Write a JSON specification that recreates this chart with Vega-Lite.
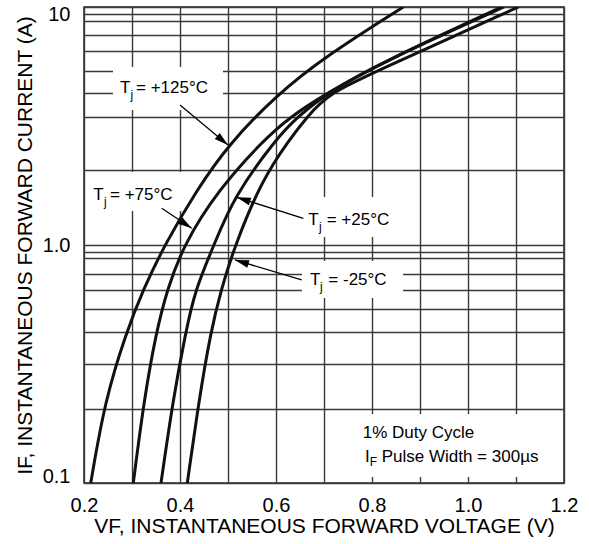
{
  "$schema": "https://vega.github.io/schema/vega-lite/v6.json",
  "autosize": {"type": "none"},
  "width": 480,
  "height": 476,
  "padding": {"left": 84, "top": 7, "right": 25, "bottom": 61},
  "background": "white",
  "config": {
    "font": "Liberation Sans",
    "view": {"stroke": "#222", "strokeWidth": 1.5},
    "axis": {
      "labelFont": "Liberation Sans",
      "titleFont": "Liberation Sans",
      "labelColor": "#000",
      "titleColor": "#000",
      "titleFontWeight": "normal",
      "domain": false,
      "ticks": false,
      "gridColor": "#3a3a3a",
      "gridWidth": 1.4,
      "gridOpacity": 1
    },
    "text": {"font": "Liberation Sans", "color": "#000"}
  },
  "datasets": {
    "curves": [
      {"t": "125", "v": 0.214, "i": 0.1},
      {"t": "125", "v": 0.2438, "i": 0.223},
      {"t": "125", "v": 0.2875, "i": 0.426},
      {"t": "125", "v": 0.3229, "i": 0.647},
      {"t": "125", "v": 0.3677, "i": 1.0},
      {"t": "125", "v": 0.4348, "i": 1.7},
      {"t": "125", "v": 0.5, "i": 2.632},
      {"t": "125", "v": 0.6015, "i": 4.27},
      {"t": "125", "v": 0.7021, "i": 6.18},
      {"t": "125", "v": 0.8652, "i": 10},
      {"t": "75", "v": 0.3027, "i": 0.1},
      {"t": "75", "v": 0.325, "i": 0.223},
      {"t": "75", "v": 0.35, "i": 0.426},
      {"t": "75", "v": 0.3729, "i": 0.647},
      {"t": "75", "v": 0.4073, "i": 1.0},
      {"t": "75", "v": 0.4792, "i": 1.7},
      {"t": "75", "v": 0.574, "i": 2.76},
      {"t": "75", "v": 0.63, "i": 3.46},
      {"t": "75", "v": 0.706, "i": 4.34},
      {"t": "75", "v": 0.817, "i": 5.81},
      {"t": "75", "v": 1.07, "i": 10},
      {"t": "25", "v": 0.3604, "i": 0.1},
      {"t": "25", "v": 0.3854, "i": 0.223},
      {"t": "25", "v": 0.4115, "i": 0.426},
      {"t": "25", "v": 0.4313, "i": 0.647},
      {"t": "25", "v": 0.4708, "i": 1.0},
      {"t": "25", "v": 0.5115, "i": 1.586},
      {"t": "25", "v": 0.5979, "i": 2.76},
      {"t": "25", "v": 0.645, "i": 3.46},
      {"t": "25", "v": 0.706, "i": 4.34},
      {"t": "25", "v": 0.817, "i": 5.81},
      {"t": "25", "v": 1.075, "i": 10},
      {"t": "-25", "v": 0.4152, "i": 0.1},
      {"t": "-25", "v": 0.4396, "i": 0.223},
      {"t": "-25", "v": 0.4635, "i": 0.426},
      {"t": "-25", "v": 0.4854, "i": 0.647},
      {"t": "-25", "v": 0.5146, "i": 1.0},
      {"t": "-25", "v": 0.5708, "i": 1.876},
      {"t": "-25", "v": 0.6271, "i": 2.76},
      {"t": "-25", "v": 0.665, "i": 3.46},
      {"t": "-25", "v": 0.71, "i": 4.34},
      {"t": "-25", "v": 0.817, "i": 5.45},
      {"t": "-25", "v": 1.105, "i": 10}
    ],
    "boxes": [
      {"v1": 0.2604, "v2": 0.4896, "i1": 5.596, "i2": 3.691},
      {"v1": 0.2042, "v2": 0.4125, "i1": 2.026, "i2": 1.39},
      {"v1": 0.65, "v2": 0.8583, "i1": 1.591, "i2": 1.08},
      {"v1": 0.6542, "v2": 0.8646, "i1": 0.8565, "i2": 0.5988},
      {"v1": 0.7167, "v2": 1.1917, "i1": 0.195, "i2": 0.1059}
    ],
    "arrows": [
      {"id": "a1", "v1": 0.4, "i1": 3.876, "v2": 0.5, "i2": 2.632},
      {"id": "a2", "v1": 0.3619, "i1": 1.426, "v2": 0.4244, "i2": 1.175},
      {"id": "a3", "v1": 0.6569, "i1": 1.295, "v2": 0.5181, "i2": 1.586},
      {"id": "a4", "v1": 0.6535, "i1": 0.713, "v2": 0.5146, "i2": 0.865}
    ],
    "heads": [
      {"id": "a1", "v": 0.4888, "i": 2.749},
      {"id": "a2", "v": 0.4123, "i": 1.221},
      {"id": "a3", "v": 0.5321, "i": 1.554},
      {"id": "a4", "v": 0.5285, "i": 0.848}
    ],
    "labels": [
      {"kind": "main", "v": 0.275, "i": 4.555, "text": "T"},
      {"kind": "sub", "v": 0.2969, "i": 4.249, "text": "j"},
      {"kind": "main", "v": 0.3083, "i": 4.555, "text": "= +125°C"},
      {"kind": "main", "v": 0.2194, "i": 1.622, "text": "T"},
      {"kind": "sub", "v": 0.2417, "i": 1.516, "text": "j"},
      {"kind": "main", "v": 0.2542, "i": 1.622, "text": "= +75°C"},
      {"kind": "main", "v": 0.6673, "i": 1.274, "text": "T"},
      {"kind": "sub", "v": 0.6896, "i": 1.19, "text": "j"},
      {"kind": "main", "v": 0.7056, "i": 1.274, "text": "= +25°C"},
      {"kind": "main", "v": 0.6708, "i": 0.7128, "text": "T"},
      {"kind": "sub", "v": 0.6917, "i": 0.666, "text": "j"},
      {"kind": "main", "v": 0.709, "i": 0.7128, "text": "= -25°C"},
      {"kind": "main", "v": 0.7806, "i": 0.1627, "text": "1% Duty Cycle"},
      {"kind": "main", "v": 0.7854, "i": 0.129, "text": "I"},
      {"kind": "sub", "v": 0.7952, "i": 0.1225, "text": "F"},
      {"kind": "main", "v": 0.8202, "i": 0.129, "text": "Pulse Width = 300µs"}
    ]
  },
  "layer": [
    {
      "data": {"name": "boxes"},
      "mark": {"type": "rect", "fill": "white", "stroke": null},
      "encoding": {
        "x": {"field": "v1", "type": "quantitative",
          "scale": {"domain": [0.2, 1.2], "nice": false, "zero": false},
          "axis": {
            "values": [0.2, 0.3, 0.4, 0.5, 0.6, 0.7, 0.8, 0.9, 1.0, 1.1, 1.2],
            "labelExpr": "round(datum.value*10) % 2 == 0 ? format(datum.value, '.1f') : ''",
            "labelFontSize": 20,
            "labelPadding": 12,
            "labelFlush": false,
            "title": "VF, INSTANTANEOUS FORWARD VOLTAGE (V)",
            "titleFontSize": 21,
            "titlePadding": 0
          }
        },
        "x2": {"field": "v2"},
        "y": {"field": "i1", "type": "quantitative",
          "scale": {"type": "log", "domain": [0.1, 10], "nice": false},
          "axis": {
            "values": [0.1, 0.205, 0.316, 0.431, 0.538, 0.647, 0.755, 0.882, 0.937, 1, 2.07, 3.45, 4.35, 5.4, 6.53, 7.63, 8.76, 9.35, 10],
            "labelExpr": "datum.value == 0.1 ? '0.1' : datum.value == 1 ? '1.0' : datum.value == 10 ? '10' : ''",
            "labelFontSize": 20,
            "labelPadding": 14,
            "labelFlush": true,
            "labelFlushOffset": 3,
            "title": "IF, INSTANTANEOUS FORWARD CURRENT (A)",
            "titleFontSize": 21,
            "titlePadding": 7
          }
        },
        "y2": {"field": "i2"}
      }
    },
    {
      "data": {"name": "curves"},
      "mark": {"type": "line", "interpolate": "basis", "color": "#111", "strokeWidth": 3, "clip": true},
      "encoding": {
        "x": {"field": "v", "type": "quantitative"},
        "y": {"field": "i", "type": "quantitative"},
        "detail": {"field": "t"}
      }
    },
    {
      "data": {"name": "arrows"},
      "mark": {"type": "rule", "color": "#000", "strokeWidth": 1.3},
      "encoding": {
        "x": {"field": "v1", "type": "quantitative"},
        "y": {"field": "i1", "type": "quantitative"},
        "x2": {"field": "v2"},
        "y2": {"field": "i2"}
      }
    },
    {
      "data": {"name": "heads"},
      "transform": [{"filter": "datum.id == 'a1'"}],
      "mark": {"type": "point", "shape": "M 1 0 L -1 -0.55 L -1 0.55 Z", "filled": true, "color": "#000", "opacity": 1, "size": 196, "angle": 39.8},
      "encoding": {"x": {"field": "v", "type": "quantitative"}, "y": {"field": "i", "type": "quantitative"}}
    },
    {
      "data": {"name": "heads"},
      "transform": [{"filter": "datum.id == 'a2'"}],
      "mark": {"type": "point", "shape": "M 1 0 L -1 -0.55 L -1 0.55 Z", "filled": true, "color": "#000", "opacity": 1, "size": 196, "angle": 33.7},
      "encoding": {"x": {"field": "v", "type": "quantitative"}, "y": {"field": "i", "type": "quantitative"}}
    },
    {
      "data": {"name": "heads"},
      "transform": [{"filter": "datum.id == 'a3'"}],
      "mark": {"type": "point", "shape": "M 1 0 L -1 -0.55 L -1 0.55 Z", "filled": true, "color": "#000", "opacity": 1, "size": 196, "angle": 197.5},
      "encoding": {"x": {"field": "v", "type": "quantitative"}, "y": {"field": "i", "type": "quantitative"}}
    },
    {
      "data": {"name": "heads"},
      "transform": [{"filter": "datum.id == 'a4'"}],
      "mark": {"type": "point", "shape": "M 1 0 L -1 -0.55 L -1 0.55 Z", "filled": true, "color": "#000", "opacity": 1, "size": 196, "angle": 196.7},
      "encoding": {"x": {"field": "v", "type": "quantitative"}, "y": {"field": "i", "type": "quantitative"}}
    },
    {
      "data": {"name": "labels"},
      "transform": [{"filter": "datum.kind == 'main'"}],
      "mark": {"type": "text", "align": "left", "baseline": "middle", "fontSize": 17},
      "encoding": {
        "x": {"field": "v", "type": "quantitative"},
        "y": {"field": "i", "type": "quantitative"},
        "text": {"field": "text"}
      }
    },
    {
      "data": {"name": "labels"},
      "transform": [{"filter": "datum.kind == 'sub'"}],
      "mark": {"type": "text", "align": "left", "baseline": "middle", "fontSize": 12},
      "encoding": {
        "x": {"field": "v", "type": "quantitative"},
        "y": {"field": "i", "type": "quantitative"},
        "text": {"field": "text"}
      }
    }
  ]
}
